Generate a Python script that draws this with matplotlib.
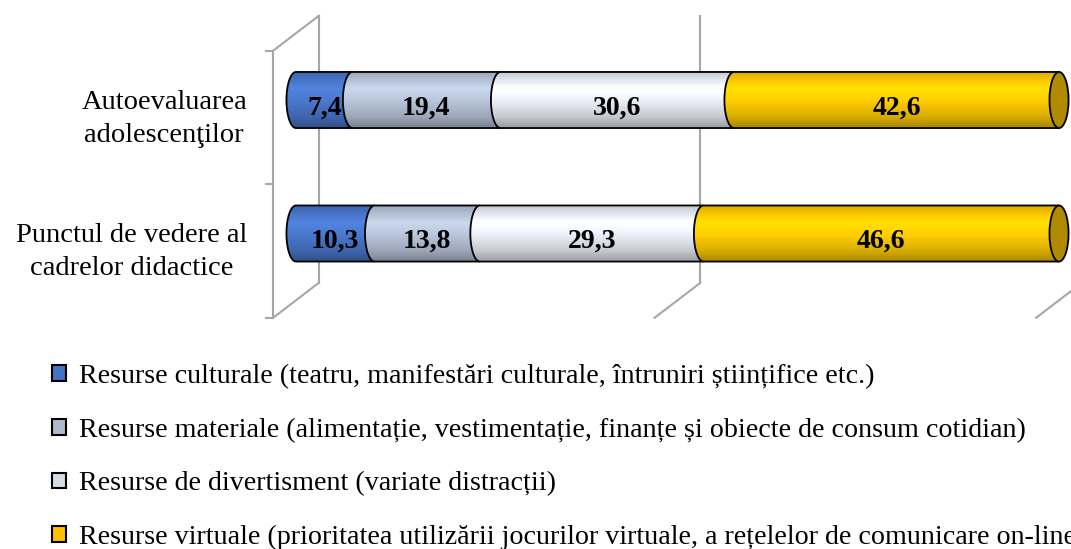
import numpy as np
import matplotlib.pyplot as plt
from matplotlib.path import Path
from matplotlib.patches import PathPatch, Ellipse, Patch

plt.rcParams['font.family'] = ['Liberation Serif', 'DejaVu Serif']

categories = ['Autoevaluarea\nadolescenţilor', 'Punctul de vedere al\ncadrelor didactice']
series_names = [
    'Resurse culturale (teatru, manifestări culturale, întruniri științifice etc.)',
    'Resurse materiale (alimentație, vestimentație, finanțe și obiecte de consum cotidian)',
    'Resurse de divertisment (variate distracții)',
    'Resurse virtuale (prioritatea utilizării jocurilor virtuale, a rețelelor de comunicare on-line)',
]
culturale = [7.4, 10.3]
materiale = [19.4, 13.8]
divertisment = [30.6, 29.3]
virtuale = [42.6, 46.6]
gridticks = [0, 50, 100]

series = [culturale, materiale, divertisment, virtuale]
base_colors = [(0.29, 0.47, 0.80), (0.72, 0.77, 0.85), (0.92, 0.93, 0.96), (1.0, 0.80, 0.0)]
legend_colors = ['#4472C4', '#ADB9CA', '#D6DCE5', '#FFC000']
cap_color = '#B08A00'
wall_color = '#A6A6A6'

fig = plt.figure(figsize=(10.71, 5.49), dpi=100)
ax = fig.add_axes([0, 0, 1, 1])

bar_h = 0.42
rx = 1.25          # half-width of the cylinder end ellipse, in x units
ddx, ddy = 3.0, 0.131   # half of the 3D depth offset

# cylinder shading profile, top -> bottom
t = np.linspace(0, 1, 64)
shade = np.interp(t, [0, 0.3, 0.5, 0.8, 1.0], [0.84, 1.1, 1.02, 0.85, 0.66])


def gradient(color):
    img = np.clip(np.array(color)[None, :] * shade[:, None], 0, 1)
    return img[:, None, :]


# walls / floor
for x in gridticks:
    ax.plot([x + ddx, x + ddx], [-0.5 - ddy, 1.5 - ddy], color=wall_color, lw=1.5, zorder=1)
    ax.plot([x - ddx, x + ddx], [1.5 + ddy, 1.5 - ddy], color=wall_color, lw=1.5, zorder=1)
ax.plot([-ddx, -ddx], [-0.5 + ddy, 1.5 + ddy], color=wall_color, lw=1.5, zorder=1)
ax.plot([-ddx, ddx], [-0.5 + ddy, -0.5 - ddy], color=wall_color, lw=1.5, zorder=1)
for yt in [-0.5, 0.5, 1.5]:
    ax.plot([-ddx - 0.9, -ddx], [yt + ddy, yt + ddy], color=wall_color, lw=1.5, zorder=1)

z = 5
for i, cat in enumerate(categories):
    yc = i
    top, bot = yc - bar_h / 2, yc + bar_h / 2
    left = 0.0
    for j, vals in enumerate(series):
        w = vals[i]
        right = left + w
        th = np.linspace(-np.pi / 2, -1.5 * np.pi, 40)
        arc = np.column_stack([left + rx * np.cos(th), yc + bar_h / 2 * np.sin(th)])
        verts = np.vstack([[[right, top]], arc, [[right, bot]], [[right, top]]])
        clip = PathPatch(Path(verts, closed=True), facecolor='none', edgecolor='none')
        ax.add_patch(clip)
        im = ax.imshow(gradient(base_colors[j]), extent=(left - rx, right, bot, top),
                       origin='upper', aspect='auto', interpolation='bilinear', zorder=z)
        im.set_clip_path(clip)
        outline = np.vstack([[[right, top]], arc, [[right, bot]]])
        ax.add_patch(PathPatch(Path(outline), facecolor='none', edgecolor='black',
                               lw=1.3, zorder=z + 0.5))
        ax.text((left + right) / 2, yc + 0.06, f'{w:.1f}'.replace('.', ','),
                ha='center', va='center', fontsize=20, fontweight='bold', zorder=50)
        left = right
        z += 1
    ax.add_patch(Ellipse((left, yc), 2 * rx, bar_h, facecolor=cap_color,
                         edgecolor='black', lw=1.3, zorder=z))
    ax.text(-ddx - 3.4, yc + ddy + 0.01, cat, ha='right', va='center',
            multialignment='center', fontsize=20.5, linespacing=1.42)

ax.set_xlim(-38.79, 101.57)
ax.set_ylim(3.363, -0.749)
ax.axis('off')

handles = [Patch(facecolor=c, edgecolor='black', lw=1.5) for c in legend_colors]
fig.legend(handles, series_names, loc='upper left', bbox_to_anchor=(0.049, 0.337),
           frameon=False, fontsize=20.2, handlelength=0.48, handleheight=0.48,
           handletextpad=0.45, labelspacing=1.02, borderpad=0, borderaxespad=0)

fig.savefig('out.png', dpi=100)
